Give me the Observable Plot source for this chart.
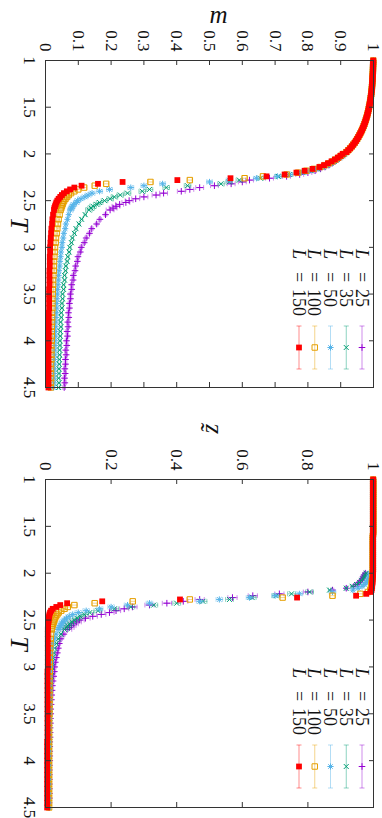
<!DOCTYPE html>
<html>
<head>
<meta charset="utf-8">
<script src="https://cdn.jsdelivr.net/npm/d3@7"></script>
<script src="https://cdn.jsdelivr.net/npm/@observablehq/plot@0.6"></script>
<style>
html, body { margin:0; padding:0; background:#fff; width:382px; height:818px; overflow:hidden; }
#fig { position:absolute; left:0; top:0; width:818px; height:382px; display:flex; transform-origin:0 0; transform: translate(382px,0) rotate(90deg); background:#fff; }
</style>
</head>
<body>
<div id="fig"></div>
<script>
// ---------- data ----------
const sizesL = [25, 35, 50, 100, 150];
const colors = ["#9400d3", "#009e73", "#56b4e9", "#e69f00", "#ff0000"];
const Tticks = [1, 1.5, 2, 2.5, 3, 3.5, 4, 4.5];
const mTicks = [0, 0.1, 0.2, 0.3, 0.4, 0.5, 0.6, 0.7, 0.8, 0.9, 1];
const zTicks = [0, 0.2, 0.4, 0.6, 0.8, 1];

const Tlow = [1.00,1.02,1.04,1.06,1.08,1.10,1.12,1.14,1.16,1.18,1.20,1.22,1.24,1.26,1.28,1.30,1.32,1.34,1.36,1.38,1.40,1.42,1.44,1.46,1.48,1.50,1.52,1.54,1.56,1.58,1.60,1.62,1.64,1.66,1.68,1.70,1.72,1.74,1.76,1.78,1.80,1.82,1.84,1.86,1.88,1.90,1.92,1.94,1.96,1.98];
const Thigh = [2.00,2.02,2.04,2.06,2.08,2.10,2.12,2.14,2.16,2.18,2.20,2.22,2.24,2.26,2.28,2.30,2.32,2.34,2.36,2.38,2.40,2.42,2.44,2.46,2.48,2.50,2.52,2.54,2.56,2.58,2.60,
  2.65,2.70,2.75,2.80,2.85,2.90,2.95,3.00,3.05,3.10,3.15,3.20,3.25,3.30,3.35,3.40,3.45,3.50,3.55,3.60,3.65,3.70,3.75,3.80,3.85,3.90,3.95,4.00,4.05,4.10,4.15,4.20,4.25,4.30,4.35,4.40,4.45,4.50];

// m, all sizes coincide at low T
const mLow = [0.9993,0.9992,0.9990,0.9988,0.9986,0.9983,0.9981,0.9978,0.9975,0.9972,0.9970,0.9967,0.9963,0.9959,0.9954,0.9949,0.9944,0.9937,0.9931,0.9923,0.9914,0.9906,0.9897,0.9887,0.9876,0.9864,0.9853,0.9840,0.9826,0.9812,0.9796,0.9779,0.9762,0.9743,0.9723,0.9701,0.9678,0.9653,0.9627,0.9598,0.9568,0.9536,0.9502,0.9466,0.9427,0.9383,0.9339,0.9288,0.9233,0.9174];
const mL25 = [0.915,0.908,0.900,0.892,0.883,0.874,0.864,0.852,0.838,0.822,0.800,0.775,0.735,0.683,0.622,0.600,0.566,0.515,0.470,0.440,0.414,0.360,0.337,0.300,0.275,0.255,0.245,0.226,0.215,0.206,0.197,
  0.183,0.166,0.156,0.141,0.134,0.124,0.118,0.109,0.106,0.099,0.097,0.092,0.090,0.085,0.084,0.080,0.080,0.076,0.076,0.073,0.073,0.070,0.071,0.068,0.069,0.066,0.067,0.064,0.065,0.062,0.063,0.061,0.061,0.059,0.060,0.058,0.059,0.057];
const mL35 = [0.912,0.905,0.897,0.889,0.880,0.870,0.859,0.846,0.830,0.810,0.785,0.744,0.710,0.655,0.591,0.560,0.535,0.433,0.368,0.317,0.295,0.250,0.228,0.210,0.197,0.180,0.165,0.156,0.145,0.139,0.132,
  0.121,0.110,0.102,0.093,0.088,0.082,0.079,0.074,0.072,0.068,0.066,0.062,0.061,0.058,0.058,0.055,0.055,0.052,0.052,0.050,0.050,0.048,0.048,0.046,0.047,0.045,0.045,0.044,0.044,0.043,0.043,0.042,0.042,0.041,0.041,0.040,0.041,0.040];
const mL50 = [0.910,0.903,0.895,0.887,0.878,0.868,0.857,0.844,0.826,0.805,0.780,0.745,0.707,0.643,0.560,0.500,0.357,0.300,0.260,0.195,0.165,0.142,0.130,0.120,0.108,0.098,0.094,0.086,0.082,0.079,0.076,
  0.071,0.067,0.062,0.060,0.056,0.054,0.051,0.050,0.047,0.046,0.044,0.043,0.041,0.040,0.039,0.038,0.037,0.036,0.035,0.034,0.034,0.033,0.032,0.031,0.031,0.030,0.030,0.029,0.029,0.028,0.028,0.027,0.027,0.027,0.026,0.026,0.026,0.025];
const mL100 = [0.908,0.901,0.893,0.884,0.875,0.864,0.852,0.838,0.818,0.795,0.770,0.735,0.663,0.607,0.440,0.320,0.185,0.150,0.118,0.100,0.088,0.078,0.071,0.066,0.061,0.057,0.054,0.052,0.050,0.048,0.046,
  0.043,0.040,0.038,0.036,0.034,0.032,0.031,0.029,0.028,0.027,0.026,0.025,0.025,0.024,0.023,0.023,0.022,0.022,0.021,0.021,0.021,0.020,0.020,0.020,0.019,0.019,0.019,0.019,0.018,0.018,0.018,0.018,0.017,0.017,0.017,0.017,0.017,0.016];
const mL150 = [0.906,0.899,0.891,0.882,0.872,0.861,0.849,0.835,0.814,0.790,0.765,0.729,0.674,0.564,0.402,0.235,0.160,0.110,0.088,0.075,0.065,0.056,0.050,0.045,0.040,0.036,0.033,0.031,0.029,0.027,0.026,
  0.023,0.021,0.020,0.018,0.017,0.016,0.015,0.014,0.014,0.013,0.013,0.013,0.012,0.012,0.012,0.012,0.011,0.011,0.011,0.011,0.011,0.010,0.010,0.010,0.010,0.010,0.010,0.010,0.010,0.009,0.009,0.009,0.009,0.009,0.009,0.009,0.009,0.009];

// z tilde
const zLow = [0.999,0.999,0.999,0.999,0.999,0.999,0.999,0.999,0.999,0.999,0.999,0.999,0.999,0.999,0.999,0.999,0.999,0.999,0.999,0.999,0.999,0.999,0.999,0.999,0.999,0.999,0.999,0.999,0.999,0.999,0.998,0.998,0.998,0.998,0.998,0.998,0.998,0.998,0.998,0.998,0.998,0.998,0.998,0.998,0.998,0.998,0.998,0.998,0.998,0.998];
const zL25 = [0.975,0.971,0.968,0.966,0.961,0.956,0.950,0.940,0.917,0.875,0.800,0.713,0.632,0.570,0.470,0.420,0.370,0.317,0.265,0.240,0.215,0.195,0.170,0.144,0.122,0.104,0.095,0.086,0.079,0.073,0.066,
  0.056,0.047,0.042,0.039,0.036,0.033,0.030,0.028,0.027,0.025,0.023,0.021,0.020,0.019,0.018,0.017,0.016,0.016,0.015,0.015,0.014,0.014,0.014,0.013,0.013,0.013,0.013,0.013,0.012,0.012,0.012,0.012,0.012,0.012,0.012,0.012,0.011,0.011];
const zL35 = [0.978,0.975,0.972,0.968,0.963,0.957,0.948,0.935,0.917,0.866,0.805,0.750,0.703,0.630,0.561,0.480,0.400,0.330,0.260,0.210,0.160,0.135,0.118,0.106,0.096,0.088,0.080,0.073,0.067,0.063,0.058,
  0.047,0.039,0.033,0.028,0.025,0.022,0.020,0.019,0.018,0.017,0.016,0.015,0.015,0.014,0.014,0.013,0.013,0.013,0.013,0.012,0.012,0.012,0.012,0.012,0.012,0.011,0.011,0.011,0.011,0.011,0.011,0.011,0.011,0.011,0.010,0.010,0.010,0.010];
const zL50 = [0.990,0.988,0.987,0.985,0.982,0.978,0.972,0.965,0.953,0.937,0.875,0.774,0.700,0.622,0.530,0.470,0.317,0.250,0.200,0.165,0.124,0.100,0.083,0.072,0.064,0.058,0.053,0.049,0.045,0.042,0.038,
  0.032,0.027,0.022,0.020,0.018,0.017,0.016,0.015,0.015,0.014,0.014,0.013,0.013,0.013,0.012,0.012,0.012,0.012,0.012,0.011,0.011,0.011,0.011,0.011,0.011,0.011,0.010,0.010,0.010,0.010,0.010,0.010,0.010,0.010,0.010,0.010,0.010,0.010];
const zL100 = [0.997,0.997,0.996,0.996,0.995,0.995,0.994,0.993,0.992,0.990,0.983,0.960,0.875,0.723,0.440,0.266,0.150,0.088,0.068,0.058,0.048,0.040,0.036,0.032,0.029,0.027,0.025,0.023,0.021,0.020,0.019,
  0.017,0.016,0.015,0.014,0.014,0.013,0.013,0.013,0.013,0.012,0.012,0.012,0.012,0.012,0.012,0.012,0.012,0.012,0.011,0.011,0.011,0.011,0.011,0.011,0.011,0.011,0.011,0.011,0.011,0.011,0.011,0.011,0.011,0.011,0.011,0.011,0.011,0.011];
const zL150 = [0.998,0.998,0.998,0.997,0.997,0.997,0.996,0.996,0.995,0.994,0.992,0.978,0.947,0.767,0.410,0.173,0.066,0.045,0.033,0.022,0.017,0.014,0.012,0.011,0.010,0.009,0.009,0.008,0.008,0.008,0.007,
  0.007,0.007,0.007,0.007,0.007,0.007,0.007,0.007,0.006,0.006,0.006,0.006,0.006,0.006,0.006,0.006,0.006,0.006,0.006,0.006,0.006,0.006,0.006,0.005,0.005,0.005,0.005,0.005,0.005,0.005,0.005,0.005,0.005,0.005,0.005,0.005,0.005,0.005];

// error bar half-widths per size (near the transition / elsewhere)
const errMNear = [0.012, 0.010, 0.009, 0.007, 0.005];
const errMFar  = [0.004, 0.0035, 0.003, 0.002, 0.0015];
const errZNear = [0.014, 0.012, 0.010, 0.008, 0.006];
const errZFar  = [0.004, 0.0035, 0.003, 0.002, 0.0015];
const errLow = 0.001;

const mSeries = [mL25, mL35, mL50, mL100, mL150];
const zSeries = [zL25, zL35, zL50, zL100, zL150];

// ---------- styling ----------
const sym = {
  plus: {draw(c, s){ const r = Math.sqrt(s/Math.PI); c.moveTo(-r,0); c.lineTo(r,0); c.moveTo(0,-r); c.lineTo(0,r); }},
  times: {draw(c, s){ const r = Math.sqrt(s/Math.PI)*0.75; c.moveTo(-r,-r); c.lineTo(r,r); c.moveTo(-r,r); c.lineTo(r,-r); }},
  star: {draw(c, s){ const r = Math.sqrt(s/Math.PI), q = r*0.72; c.moveTo(-r,0); c.lineTo(r,0); c.moveTo(0,-r); c.lineTo(0,r); c.moveTo(-q,-q); c.lineTo(q,q); c.moveTo(-q,q); c.lineTo(q,-q); }},
  square: {draw(c, s){ const r = Math.sqrt(s/Math.PI)*0.85; c.rect(-r,-r,2*r,2*r); }},
  cap: {draw(c, s){ const r = Math.sqrt(s/Math.PI); c.moveTo(-r,0); c.lineTo(r,0); }}
};
const style = [
  {sym: "plus", r: 3.3, filled: false},
  {sym: "times", r: 3.3, filled: false},
  {sym: "star", r: 3.1, filled: false},
  {sym: "square", r: 3.2, filled: false},
  {sym: "square", r: 3.4, filled: true}
];
const FONT = "Liberation Serif";
const frameColor = "#333";
const W = 409, H = 382, MT = 8, MB = 46;

function rows(vals, low, i, near, far) {
  const T = Tlow.concat(Thigh);
  const v = low.concat(vals);
  return T.map((t, k) => ({T: t, v: v[k], e: t < 2 ? errLow : (t >= 2.2 && t <= 2.6 ? near[i] : far[i])}));
}

function panel({ml, mr, series, low, near, far, yTicks, ylabel, ylabelRotate}) {
  const fw = W - ml - mr, fh = H - MT - MB;
  const marks = [];
  series.forEach((vals, i) => {
    const d = rows(vals, low, i, near, far);
    const c = colors[i], st = style[i];
    marks.push(
      Plot.ruleX(d, {x: "T", y1: p => p.v - p.e, y2: p => p.v + p.e, stroke: c, strokeOpacity: 0.45, strokeWidth: 1}),
      Plot.dot(d, {x: "T", y: p => p.v - p.e, symbol: sym.cap, r: 2.4, stroke: c, strokeOpacity: 0.45, fill: "none", strokeWidth: 1}),
      Plot.dot(d, {x: "T", y: p => p.v + p.e, symbol: sym.cap, r: 2.4, stroke: c, strokeOpacity: 0.45, fill: "none", strokeWidth: 1}),
      Plot.dot(d, {x: "T", y: "v", symbol: sym[st.sym], r: st.r, fill: st.filled ? c : "none", stroke: st.filled ? "none" : c, strokeWidth: 1})
    );
  });
  marks.push(
    Plot.tickX(Tticks, {x: t => t, insetTop: fh - 5, stroke: frameColor}),
    Plot.tickX(Tticks, {x: t => t, insetBottom: fh - 5, stroke: frameColor}),
    Plot.tickY(yTicks, {y: t => t, insetRight: fw - 5, stroke: frameColor}),
    Plot.tickY(yTicks, {y: t => t, insetLeft: fw - 5, stroke: frameColor}),
    Plot.frame({stroke: frameColor, strokeWidth: 1}),
    // tick labels
    Plot.text(Tticks, {x: t => t, text: t => String(t), frameAnchor: "bottom", dy: 9, lineAnchor: "top", fontSize: 17, fontFamily: FONT, fill: "#111"}),
    Plot.text(yTicks, {y: t => t, text: t => String(t), frameAnchor: "left", dx: -9, textAnchor: "end", fontSize: 17, fontFamily: FONT, fill: "#111"}),
    // axis labels
    Plot.text([ylabel], {text: t => t, frameAnchor: "left", dx: -46, rotate: ylabelRotate, fontSize: 25, fontStyle: "italic", fontFamily: FONT, fill: "#111"}),
    Plot.text(["T"], {text: t => t, frameAnchor: "bottom", dy: 35, fontSize: 26, fontStyle: "italic", fontFamily: FONT, fill: "#111"})
  );
  const svg = Plot.plot({
    width: W, height: H,
    marginLeft: ml, marginRight: mr, marginTop: MT, marginBottom: MB,
    style: {fontFamily: FONT, background: "white", maxWidth: "none", overflow: "visible"},
    x: {domain: [1, 4.5], axis: null},
    y: {domain: [0, 1], axis: null},
    marks
  });
  addLegend(svg, ml);
  return svg;
}

function addLegend(svg, ml) {
  const g = d3.select(svg).append("g").attr("font-family", FONT);
  sizesL.forEach((L, i) => {
    const y = 20 + i * 15.75;
    const x0 = ml + 189;
    const c = colors[i], st = style[i];
    g.append("text").attr("x", x0).attr("y", y).attr("dy", "0.35em").attr("text-anchor", "start")
      .attr("font-style", "italic").attr("font-size", 18).attr("fill", "#111").text("L");
    g.append("text").attr("x", x0 + 23).attr("y", y).attr("dy", "0.35em").attr("text-anchor", "start")
      .attr("font-size", 18).attr("fill", "#111").text("=");
    g.append("text").attr("x", x0 + 40).attr("y", y).attr("dy", "0.35em").attr("text-anchor", "start")
      .attr("font-size", 18).attr("fill", "#111").text(String(L));
    const xs1 = ml + 266, xs2 = ml + 309, xm = (xs1 + xs2) / 2;
    const eg = g.append("g").attr("stroke", c).attr("stroke-opacity", 0.45).attr("fill", "none");
    eg.append("line").attr("x1", xs1).attr("x2", xs2).attr("y1", y).attr("y2", y);
    eg.append("line").attr("x1", xs1).attr("x2", xs1).attr("y1", y - 2.5).attr("y2", y + 2.5);
    eg.append("line").attr("x1", xs2).attr("x2", xs2).attr("y1", y - 2.5).attr("y2", y + 2.5);
    g.append("path").attr("transform", `translate(${xm},${y})`)
      .attr("d", d3.symbol(sym[st.sym], Math.PI * st.r * st.r)())
      .attr("fill", st.filled ? c : "none").attr("stroke", st.filled ? "none" : c).attr("stroke-width", 1);
  });
}

const fig = document.getElementById("fig");
fig.append(panel({ml: 60, mr: 22, series: mSeries, low: mLow, near: errMNear, far: errMFar, yTicks: mTicks, ylabel: "m", ylabelRotate: -90}));
fig.append(panel({ml: 70, mr: 11, series: zSeries, low: zLow, near: errZNear, far: errZFar, yTicks: zTicks, ylabel: "z\u0303", ylabelRotate: 180}));
</script>
</body>
</html>
